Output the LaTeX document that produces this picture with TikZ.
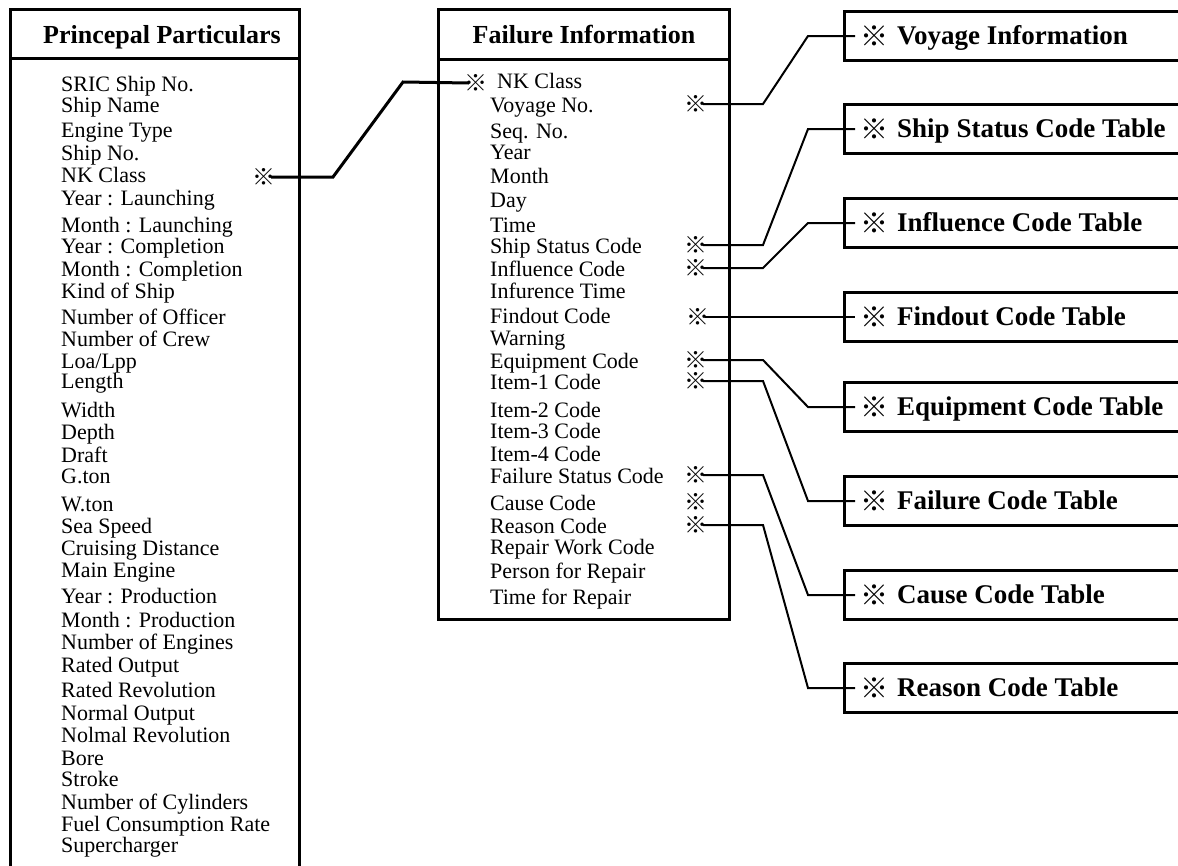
\documentclass[tikz,border=0pt]{standalone}
\usepackage{fontspec}
\setmainfont{Liberation Serif}
\newfontfamily\cjk{Noto Sans CJK JP}
\begin{document}
\begin{tikzpicture}[x=1pt,y=-1pt,
  box/.style={draw,line width=3pt,inner sep=0pt},
  item/.style={anchor=base west,inner sep=0pt,font=\fontsize{22}{22}\selectfont},
  ttl/.style={anchor=base,inner sep=0pt,font=\bfseries\fontsize{26}{26}\selectfont},
  rttl/.style={anchor=base west,inner sep=0pt,font=\bfseries\fontsize{27}{27}\selectfont},
  smark/.style={inner sep=-4.5pt,font=\cjk\fontsize{23}{23}\selectfont},
  rmark/.style={inner sep=0pt,font=\cjk\fontsize{28}{28}\selectfont},
  conn/.style={line width=2pt},
  thickconn/.style={line width=3pt}]
\useasboundingbox (0,0) rectangle (1178,865);
\clip (0,0) rectangle (1178,865);
\fill[white] (0,0) rectangle (1178,865);

% ---------- Princepal Particulars ----------
\node[box,anchor=north west,minimum width=289pt,minimum height=870pt] (pp) at (9,8) {};
\draw[line width=3pt] (9,58) -- (298,58);
\node[ttl] (ppt) at (162,43) {Princepal Particulars};
\foreach \t/\b [count=\i] in {SRIC Ship No./91, Ship Name/112, Engine Type/137, Ship No./160,
  NK Class/182, Year : Launching/205, Month : Launching/232, Year : Completion/253,
  Month : Completion/276, Kind of Ship/298, Number of Officer/324, Number of Crew/346,
  Loa\slash Lpp/368, Length/388, Width/417, Depth/439, Draft/462, G.ton/483, W.ton/511,
  Sea Speed/533, Cruising Distance/555, Main Engine/577, Year : Production/603,
  Month : Production/627, Number of Engines/649, Rated Output/672, Rated Revolution/697,
  Normal Output/720, Nolmal Revolution/742, Bore/765, Stroke/786, Number of Cylinders/809,
  Fuel Consumption Rate/831, Supercharger/852}
  \node[item] (pp\i) at (61,\b) {\t};
\node[smark] (lnk) at (264,177) {※};

% ---------- Failure Information ----------
\node[box,anchor=north west,minimum width=291pt,minimum height=610pt] (fi) at (437,8) {};
\draw[line width=3pt] (437,59) -- (728,59);
\node[ttl] (fit) at (584,43) {Failure Information};
\node[smark] (fnk) at (476,83) {※};
\node[item] (fi0) at (497,88) {NK Class};
\foreach \t/\b [count=\i] in {Voyage No./112, Seq. No./138, Year/159, Month/183, Day/207,
  Time/232, Ship Status Code/253, Influence Code/276, Infurence Time/298,
  Findout Code/323, Warning/345, Equipment Code/368, Item-1 Code/389, Item-2 Code/417,
  Item-3 Code/438, Item-4 Code/461, Failure Status Code/483, Cause Code/510,
  Reason Code/533, Repair Work Code/554, Person for Repair/578, Time for Repair/604}
  \node[item] (fi\i) at (490,\b) {\t};
\foreach \n/\y/\x in {voy/104/696, ship/245/696, infl/268/696, find/317/698, equip/360/696,
  item/381/696, fstat/475/696, cause/502/696, reason/525/696}
  \node[smark] (m\n) at (\x,\y) {※};

% ---------- Code tables ----------
\foreach \n/\yc/\t in {voy/36/Voyage Information, ship/129/Ship Status Code Table,
  infl/223/Influence Code Table, find/317/Findout Code Table, equip/407/Equipment Code Table,
  fail/501/Failure Code Table, cause/595/Cause Code Table, reason/688/Reason Code Table}
{
  \node[box,anchor=west,minimum width=360pt,minimum height=49pt] (b\n) at (843,\yc) {};
  \node[rmark] (r\n) at (874,\yc) {※};
  \node[rttl] (t\n) at (897,\yc+8) {\t};
}

% ---------- Connectors ----------
\draw[thickconn] (lnk.east) -- (333,177) -- (403,82) -- (fnk.west);
\draw[conn] (mvoy.east) -- (763,104) -- (808,36) -- ([xshift=12pt]bvoy.west);
\draw[conn] (mship.east) -- (763,245) -- (808,129) -- ([xshift=12pt]bship.west);
\draw[conn] (minfl.east) -- (763,268) -- (808,223) -- ([xshift=12pt]binfl.west);
\draw[conn] (mfind.east) -- ([xshift=12pt]bfind.west);
\draw[conn] (mequip.east) -- (763,360) -- (808,407) -- ([xshift=12pt]bequip.west);
\draw[conn] (mitem.east) -- (763,381) -- (808,501) -- ([xshift=12pt]bfail.west);
\draw[conn] (mfstat.east) -- (763,475) -- (808,595) -- ([xshift=12pt]bcause.west);
\draw[conn] (mreason.east) -- (763,525) -- (808,688) -- ([xshift=12pt]breason.west);
\end{tikzpicture}
\end{document}
